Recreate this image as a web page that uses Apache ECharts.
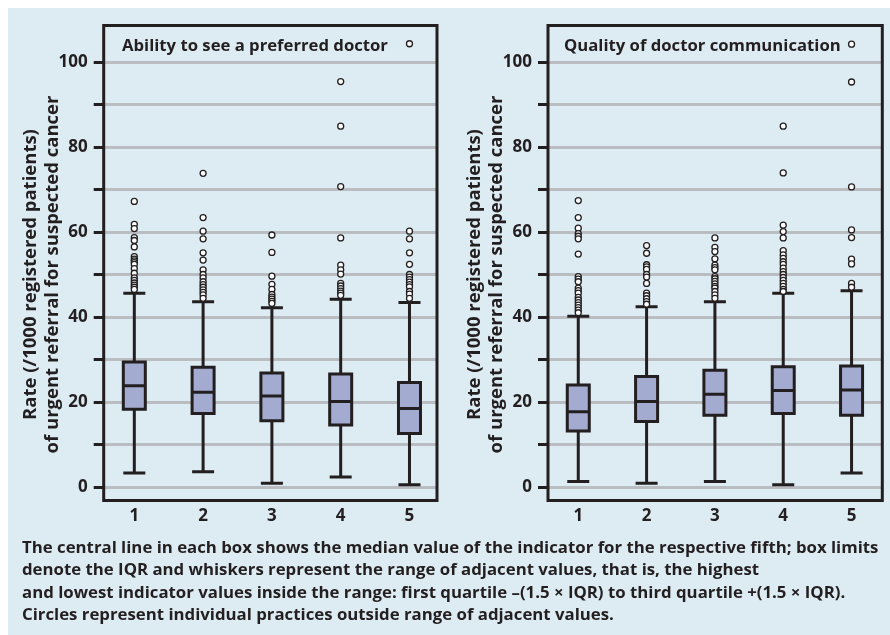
<!DOCTYPE html>
<html>
<head>
<meta charset="utf-8">
<script src="https://cdn.jsdelivr.net/npm/echarts@6/dist/echarts.min.js"></script>
<style>
html,body{margin:0;padding:0;background:#fff;}
#c{width:890px;height:635px;}
</style>
</head>
<body>
<div id="c"></div>
<script>
const fifths = [1, 2, 3, 4, 5];
const tickLabels = [0, 20, 40, 60, 80, 100];
const panelTitles = ['Ability to see a preferred doctor', 'Quality of doctor communication'];
const yAxisName = 'Rate (/1000 registered patients)\nof urgent referral for suspected cancer';
const caption = 'The central line in each box shows the median value of the indicator for the respective fifth; box limits\ndenote the IQR and whiskers represent the range of adjacent values, that is, the highest\nand lowest indicator values inside the range: first quartile \u2013(1.5 \u00d7 IQR) to third quartile +(1.5 \u00d7 IQR).\nCircles represent individual practices outside range of adjacent values.';

// Panel A: Ability to see a preferred doctor
const prefLow = [3.3, 3.6, 0.9, 2.35, 0.55];
const prefQ1 = [18.3, 17.3, 15.6, 14.6, 12.6];
const prefMedian = [23.8, 22.3, 21.4, 20.1, 18.5];
const prefQ3 = [29.4, 28.2, 26.8, 26.6, 24.6];
const prefHigh = [45.6, 43.6, 42.2, 44.2, 43.4];
const prefOutliers = [
  [67.2, 61.8, 60.8, 58.7, 58.0, 56.5, 54.2, 53.6, 53.2, 52.8, 52.4, 51.4, 50.3, 49.2, 48.6, 48.0, 47.5, 47.0, 46.5],
  [73.8, 63.4, 60.2, 58.4, 55.1, 53.4, 51.1, 50.0, 49.2, 48.3, 47.6, 47.0, 46.4, 45.8, 45.2, 44.4],
  [59.3, 55.2, 49.6, 47.7, 46.5, 45.3, 44.7, 44.2, 43.7, 43.2],
  [95.4, 84.9, 70.7, 58.6, 52.2, 51.1, 50.1, 47.9, 47.3, 46.7, 46.1, 45.6, 45.1],
  [104.3, 60.2, 58.4, 55.1, 52.4, 50.0, 49.4, 48.8, 48.2, 47.6, 47.1, 46.0, 45.4, 44.4]
];

// Panel B: Quality of doctor communication
const commLow = [1.3, 0.9, 1.3, 0.55, 3.3];
const commQ1 = [13.2, 15.4, 16.9, 17.3, 16.9];
const commMedian = [17.7, 20.1, 21.8, 22.7, 22.8];
const commQ3 = [24.0, 26.0, 27.5, 28.3, 28.5];
const commHigh = [40.2, 42.4, 43.6, 45.6, 46.2];
const commOutliers = [
  [67.4, 63.4, 60.9, 59.6, 59.0, 58.4, 54.8, 49.5, 48.9, 48.3, 46.8, 46.2, 45.6, 44.6, 44.0, 43.4, 42.8, 42.2, 41.6, 41.0],
  [56.8, 55.0, 52.3, 51.8, 51.2, 50.0, 49.4, 47.9, 45.6, 45.0, 44.3, 43.6, 43.0],
  [58.6, 56.4, 55.4, 53.7, 52.2, 51.6, 51.1, 49.5, 49.0, 48.4, 47.8, 47.2, 46.8, 46.0, 45.2, 44.4],
  [84.9, 73.9, 61.6, 60.1, 58.6, 55.6, 54.6, 53.8, 53.0, 52.4, 51.5, 50.7, 50.0, 49.3, 48.6, 47.9, 47.2, 46.5, 46.0],
  [104.2, 95.3, 70.6, 60.5, 58.7, 53.6, 52.5, 47.9, 47.0]
];

const INK = '#231f20';
const FONT = '"Open Sans"';

function boxData(low, q1, med, q3, high) {
  return fifths.map((f, i) => [f, low[i], q1[i], med[i], q3[i], high[i]]);
}
function outlierData(out) {
  const res = [];
  out.forEach((vals, i) => vals.forEach(v => res.push([fifths[i], v])));
  return res;
}

const chart = echarts.init(document.getElementById('c'), null, {renderer: 'canvas'});

const frameGrid = (left, width) => ({
  left: left, top: 25.5, width: width, height: 475,
  show: true, borderColor: INK, borderWidth: 3, backgroundColor: 'transparent', z: 5
});
const dataGrid = (left, width) => ({left: left, top: 62, width: width, height: 425});

const hiddenX = (g) => ({gridIndex: g, type: 'value', min: 0, max: 1, show: false});
const hiddenY = (g) => ({gridIndex: g, type: 'value', min: 0, max: 1, show: false});

const dataX = (g, mn, mx) => ({
  gridIndex: g, type: 'value', min: mn, max: mx,
  axisLine: {show: false}, axisTick: {show: false}, splitLine: {show: false},
  axisLabel: {customValues: fifths, margin: 21, color: INK, fontFamily: FONT, fontWeight: 'bold', fontSize: 17}
});
const dataY = (g) => ({
  gridIndex: g, type: 'value', min: 0, max: 100, interval: 10,
  name: yAxisName, nameLocation: 'middle', nameGap: 40, nameMoveOverlap: false,
  nameTextStyle: {color: INK, fontFamily: FONT, fontWeight: 'bold', fontSize: 18.5, lineHeight: 22},
  axisLine: {show: false},
  axisTick: {show: true, inside: false, length: 10, lineStyle: {color: INK, width: 3}},
  axisLabel: {
    margin: 16, color: INK, fontFamily: FONT, fontWeight: 'bold', fontSize: 17,
    formatter: v => (tickLabels.indexOf(v) >= 0 ? String(v) : '')
  },
  splitLine: {show: true, lineStyle: {color: '#b9bcc0', width: 3}}
});

const boxSeries = (ax, low, q1, med, q3, high) => ({
  type: 'boxplot', xAxisIndex: ax, yAxisIndex: ax,
  boxWidth: [22, 22],
  data: boxData(low, q1, med, q3, high),
  itemStyle: {color: '#a3acd0', borderColor: INK, borderWidth: 3},
  emphasis: {disabled: true}, z: 3
});
const outSeries = (ax, out) => ({
  type: 'scatter', xAxisIndex: ax, yAxisIndex: ax,
  data: outlierData(out), clip: false,
  symbol: 'circle', symbolSize: 6,
  itemStyle: {color: '#ffffff', borderColor: INK, borderWidth: 1.3, opacity: 1},
  emphasis: {disabled: true}, z: 4
});

const titleStyle = {color: INK, fontFamily: FONT, fontWeight: 'bold', fontSize: 16.7, lineHeight: 20};

chart.setOption({
  animation: false,
  backgroundColor: '#ffffff',
  textStyle: {fontFamily: FONT},
  graphic: [{
    type: 'rect', left: 8, top: 8, z: -10,
    shape: {width: 882, height: 627},
    style: {fill: '#ddebf2'}, silent: true
  }],
  title: [
    {text: panelTitles[0], left: 122, top: 36.5, textStyle: titleStyle, padding: 0},
    {text: panelTitles[1], left: 564, top: 36.5, textStyle: titleStyle, padding: 0},
    {text: caption, left: 22, top: 537, textStyle: {color: INK, fontFamily: FONT, fontWeight: 'bold', fontSize: 16.8, lineHeight: 22.3}, padding: 0}
  ],
  grid: [
    frameGrid(103.7, 333.3),
    dataGrid(103.7, 333.3),
    frameGrid(548, 334.3),
    dataGrid(548, 334.3)
  ],
  xAxis: [hiddenX(0), dataX(1, 0.555, 5.40), hiddenX(2), dataX(3, 0.557, 5.45)],
  yAxis: [hiddenY(0), dataY(1), hiddenY(2), dataY(3)],
  series: [
    boxSeries(1, prefLow, prefQ1, prefMedian, prefQ3, prefHigh),
    outSeries(1, prefOutliers),
    boxSeries(3, commLow, commQ1, commMedian, commQ3, commHigh),
    outSeries(3, commOutliers)
  ]
});
</script>
</body>
</html>
